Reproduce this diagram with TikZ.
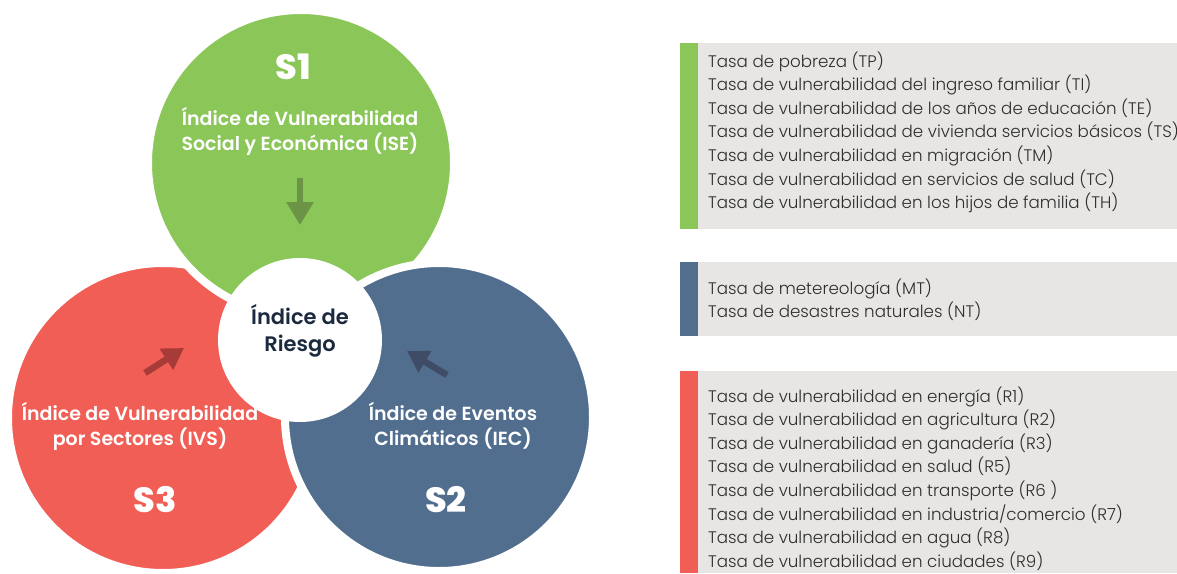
\documentclass[tikz,border=0pt]{standalone}
\usepackage{fontspec}
\setmainfont{Poppins}[BoldFont={Poppins SemiBold}]
\newfontfamily\lightfont{Poppins Light}
\newfontfamily\heavyfont{Poppins ExtraBold}
\usepackage{xcolor}
\usetikzlibrary{arrows.meta}
\definecolor{RiskGreen}{HTML}{8BC659}
\definecolor{RiskRed}{HTML}{F15E55}
\definecolor{RiskBlue}{HTML}{516E8E}
\definecolor{RiskGreenDark}{HTML}{6B9447}
\definecolor{RiskRedDark}{HTML}{A63B37}
\definecolor{RiskBlueDark}{HTML}{3F4C66}
\definecolor{RiskNavy}{HTML}{1B2A3E}
\definecolor{RiskPanel}{HTML}{E7E6E4}
\definecolor{RiskInk}{HTML}{2E2E2E}

\begin{document}
\begin{tikzpicture}[x=1pt,y=-1pt,
    sector/.style={draw=white,line width=8pt},
    sectorlabel/.style={white,align=center,font=\fontsize{19}{25}\selectfont\bfseries},
    sectorname/.style={white,font=\fontsize{35}{35}\selectfont\heavyfont},
    flow/.style={line width=6.5pt,-{Triangle[width=26pt,length=23pt]}},
    listtext/.style={RiskInk,anchor=base west,inner sep=0pt,font=\fontsize{16.7}{20}\selectfont\lightfont}]
  \useasboundingbox (0,0) rectangle (1177,573);
  \clip (0,0) rectangle (1177,573);
  % three sectors, stacked red < green < blue
  \filldraw[sector,fill=RiskRed] (163,418) circle (155);
  \filldraw[sector,fill=RiskGreen] (301,163) circle (153);
  \filldraw[sector,fill=RiskBlue] (439,417) circle (154);
  \fill[white] (300,340) circle (82);
  \node[sectorname] (s1) at (293,67) {S1};
  \node[sectorlabel] (ise) at (300,131) {Índice de Vulnerabilidad\\Social y Económica (ISE)};
  \node[sectorname] (s3) at (155,500) {S3};
  \node[sectorlabel] (ivs) at (140,426) {Índice de Vulnerabilidad\\por Sectores (IVS)};
  \node[sectorname] (s2) at (446,500) {S2};
  \node[sectorlabel] (iec) at (453,426) {Índice de Eventos\\Climáticos (IEC)};
  \node[RiskNavy,align=center,font=\fontsize{21}{27}\selectfont\bfseries] (riesgo) at (300,331)
    {Índice de\\Riesgo};
  % arrows into the centre
  \coordinate (ise tail) at (300,178);
  \coordinate (ise tip) at (300,225);
  \coordinate (ivs tail) at (145,373);
  \coordinate (ivs tip) at (184,348);
  \coordinate (iec tail) at (447,375);
  \coordinate (iec tip) at (407,351);
  \draw[flow,RiskGreenDark] (ise tail) -- (ise tip);
  \draw[flow,RiskRedDark,-{Triangle[width=24pt,length=21pt]}] (ivs tail) -- (ivs tip);
  \draw[flow,RiskBlueDark,-{Triangle[width=24pt,length=21pt]}] (iec tail) -- (iec tip);
  % indicator panels
  \fill[RiskPanel] (680,43) rectangle (1177,229);
  \fill[RiskGreen] (680,43) rectangle (698,229);
  \fill[RiskPanel] (680,262) rectangle (1177,336);
  \fill[RiskBlue] (680,262) rectangle (698,336);
  \fill[RiskPanel] (680,371) rectangle (1177,573);
  \fill[RiskRed] (680,371) rectangle (698,573);
  \foreach \txt [count=\i from 0] in {Tasa de pobreza (TP),
      Tasa de vulnerabilidad del ingreso familiar (TI),
      Tasa de vulnerabilidad de los años de educación (TE),
      Tasa de vulnerabilidad de vivienda servicios básicos (TS),
      Tasa de vulnerabilidad en migración (TM),
      Tasa de vulnerabilidad en servicios de salud (TC),
      Tasa de vulnerabilidad en los hijos de familia (TH)}
    \node[listtext] (ise\i) at (708,{67+23.6*\i}) {\txt};
  \foreach \txt [count=\i from 0] in {Tasa de metereología (MT),
      Tasa de desastres naturales (NT)}
    \node[listtext] (iec\i) at (708,{294+23.6*\i}) {\txt};
  \foreach \txt [count=\i from 0] in {Tasa de vulnerabilidad en energía (R1),
      Tasa de vulnerabilidad en agricultura (R2),
      Tasa de vulnerabilidad en ganadería (R3),
      Tasa de vulnerabilidad en salud (R5),
      Tasa de vulnerabilidad en transporte (R6 ),
      Tasa de vulnerabilidad en industria/comercio (R7),
      Tasa de vulnerabilidad en agua (R8),
      Tasa de vulnerabilidad en ciudades (R9)}
    \node[listtext] (ivs\i) at (708,{402+23.6*\i}) {\txt};
\end{tikzpicture}
\end{document}
